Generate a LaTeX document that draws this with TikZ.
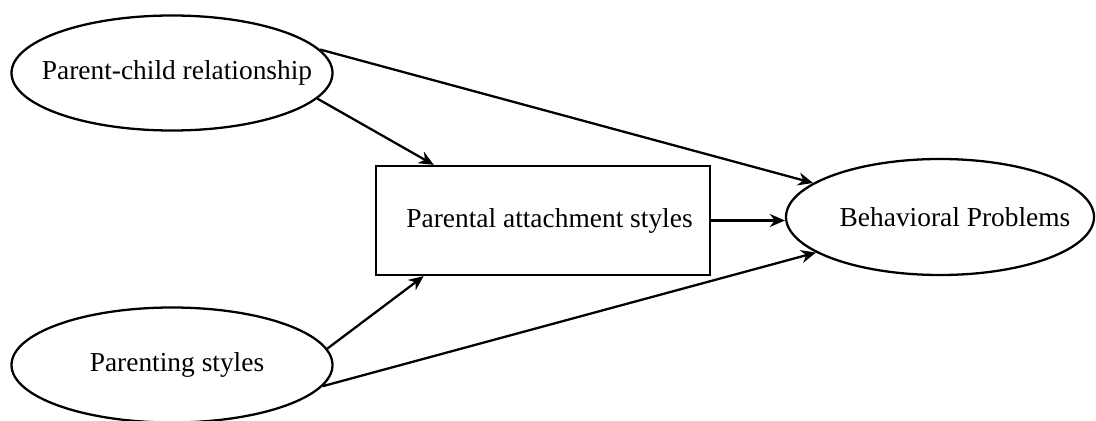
\documentclass[tikz,border=0pt]{standalone}
\usepackage{fontspec}
\setmainfont{Liberation Serif}
\usepackage{tikz}
\usetikzlibrary{shapes.geometric, arrows.meta}
\newcommand{\ovaltext}[1]{\makebox[0pt]{#1}}
\tikzstyle{every node} = [
		font = \fontsize{15.6}{18}\selectfont,
		inner sep = 0pt,
	]
\tikzstyle{factor} = [
		ellipse,
		minimum width = 6.42cm,
		minimum height = 2.3cm,
		draw = black,
		line width = 1.3pt,
		text centered
	]
\tikzstyle{mediator} = [
		rectangle,
		minimum width = 6.68cm,
		minimum height = 2.18cm,
		draw = black,
		line width = 1.3pt,
		text centered
	]
\tikzstyle{path} = [
		line width = 1.3pt,
		-{Stealth[length=3mm, width=2.6mm]}
	]

\begin{document}
\begin{tikzpicture}
	\useasboundingbox (0,0) rectangle (21.92,8.4);

		%------------------------------Nodes------------------------------
		\node [factor] (relation) at (3.44,6.94) {\ovaltext{\hspace{2mm}Parent-child relationship}};
		\node [factor] (parenting) at (3.44,1.10) {\ovaltext{\hspace{2mm}Parenting styles}};
		\node [mediator] (attach) at (10.86,3.99) {\hspace{2.6mm}Parental attachment styles};
		\node [factor, minimum width = 6.16cm, minimum height = 2.32cm] (behavior) at (18.8,4.06) {\ovaltext{\hspace{6mm}Behavioral Problems}};

		%------------------------------Paths------------------------------
		\draw [path] (relation.-10.5) -- (attach.153);
		\draw [path] (relation.9.6) -- (behavior.165.6);
		\draw [path] (parenting.6.7) -- (attach.205.4);
		\draw [path] (parenting.-8.7) -- (behavior.196.4);
		\draw [path] (attach.east) -- (attach.east -| behavior.west);

	\end{tikzpicture}
\end{document}
